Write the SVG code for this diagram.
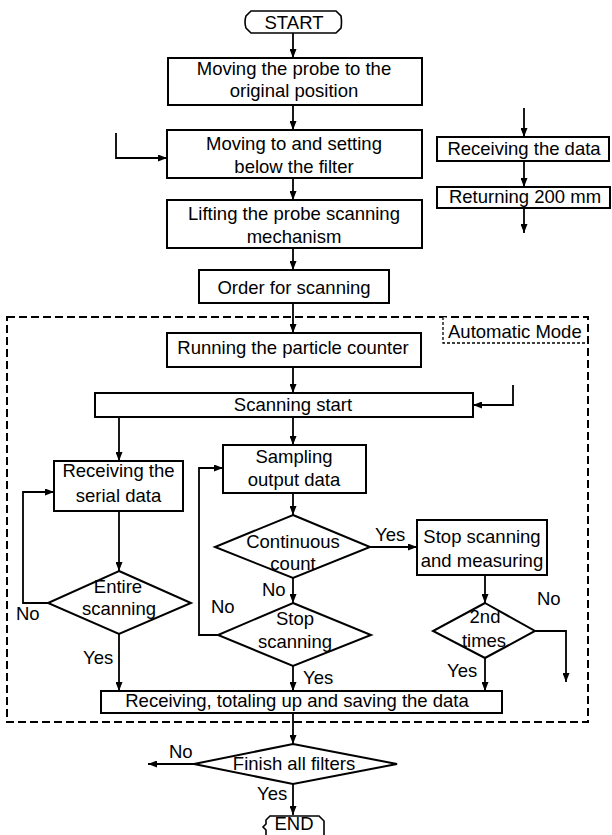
<svg xmlns="http://www.w3.org/2000/svg" width="612" height="835" viewBox="0 0 612 835">
  <defs>
    <marker id="arrow" markerUnits="userSpaceOnUse" markerWidth="10" markerHeight="7" refX="9" refY="3.5" orient="auto">
      <path d="M0,0 L9,3.5 L0,7 Z" fill="#000"/>
    </marker>
    <style>
      .box { fill: #fff; stroke: #000; stroke-width: 2; }
      .term { fill: #fff; stroke: #000; stroke-width: 1.6; }
      .dia { fill: #fff; stroke: #000; stroke-width: 2; }
      .t { font-family: "Liberation Sans", Arial, sans-serif; font-size: 18.5px; fill: #000; text-anchor: middle; }
      .lbl { font-family: "Liberation Sans", Arial, sans-serif; font-size: 18.5px; fill: #000; text-anchor: start; }
      .edge { fill: none; stroke: #000; stroke-width: 1.8; marker-end: url(#arrow); }
      .frame { fill: none; stroke: #000; stroke-width: 2; stroke-dasharray: 8 4; }
      .tag { fill: #fff; stroke: #000; stroke-width: 1.3; stroke-dasharray: 3 2; }
    </style>
  </defs>
  <rect width="612" height="835" fill="#fff"/>

  <!-- automatic mode frame -->
  <g id="automatic-mode">
    <rect class="frame" x="7" y="317" width="581" height="405"/>
    <path class="tag" d="M443,317 V343 H588"/>
    <text class="lbl" x="448" y="338">Automatic Mode</text>
  </g>

  <!-- connectors -->
  <g id="connectors">
    <path class="edge" d="M293,33 V58"/>
    <path class="edge" d="M293,105 V130"/>
    <path class="edge" d="M116,133 V158 H167"/>
    <path class="edge" d="M293,178 V200"/>
    <path class="edge" d="M293,248 V270"/>
    <path class="edge" d="M293,303 V333"/>
    <path class="edge" d="M293,367 V393"/>
    <path class="edge" d="M513,385 V405 H473"/>
    <path class="edge" d="M119,417 V461"/>
    <path class="edge" d="M293,417 V445"/>
    <path class="edge" d="M293,493 V515"/>
    <path class="edge" d="M370,547 H417"/>
    <path class="edge" d="M293,578 V603"/>
    <path class="edge" d="M218,635 H199 V468 H223"/>
    <path class="edge" d="M293,666 V691"/>
    <path class="edge" d="M119,511 V571"/>
    <path class="edge" d="M48,603 H23 V492 H54"/>
    <path class="edge" d="M119,634 V691"/>
    <path class="edge" d="M485,575 V603"/>
    <path class="edge" d="M485,658 V691"/>
    <path class="edge" d="M535,631 H566 V682"/>
    <path class="edge" d="M293,713 V744"/>
    <path class="edge" d="M194,764 H148"/>
    <path class="edge" d="M293,784 V815"/>
    <path class="edge" d="M524,108 V137"/>
    <path class="edge" d="M524,161 V187"/>
    <path class="edge" d="M524,208 V233"/>
    <!-- branch labels -->
    <text class="lbl" x="375" y="541">Yes</text>
    <text class="lbl" x="262" y="596">No</text>
    <text class="lbl" x="211" y="613">No</text>
    <text class="lbl" x="303" y="684">Yes</text>
    <text class="lbl" x="16" y="620">No</text>
    <text class="lbl" x="83" y="664">Yes</text>
    <text class="lbl" x="537" y="605">No</text>
    <text class="lbl" x="447" y="677">Yes</text>
    <text class="lbl" x="169" y="758">No</text>
    <text class="lbl" x="257" y="800">Yes</text>
  </g>

  <g id="start">
    <path class="term" d="M251,11 H336 L341,16 Q342,22 341,28 L336,33 H251 L246,28 Q244,22 246,16 Z"/>
    <text class="t" x="294" y="29">START</text>
  </g>

  <g id="move-origin">
    <rect class="box" x="168" y="58" width="254" height="47"/>
    <text class="t" x="294" y="75">Moving the probe to the</text>
    <text class="t" x="294" y="97">original position</text>
  </g>

  <g id="move-below-filter">
    <rect class="box" x="167" y="130" width="255" height="48"/>
    <text class="t" x="294" y="150">Moving to and setting</text>
    <text class="t" x="294" y="173">below the filter</text>
  </g>

  <g id="lift-probe">
    <rect class="box" x="167" y="200" width="255" height="48"/>
    <text class="t" x="294" y="220">Lifting the probe scanning</text>
    <text class="t" x="294" y="243">mechanism</text>
  </g>

  <g id="order-scan">
    <rect class="box" x="199" y="270" width="190" height="33"/>
    <text class="t" x="294" y="294">Order for scanning</text>
  </g>

  <g id="receive-data">
    <rect class="box" x="437" y="137" width="172" height="24"/>
    <text class="t" x="524" y="155">Receiving the data</text>
  </g>

  <g id="return-200">
    <rect class="box" x="437" y="187" width="173" height="21"/>
    <text class="t" x="525" y="203">Returning 200 mm</text>
  </g>

  <g id="run-counter">
    <rect class="box" x="167" y="333" width="254" height="34"/>
    <text class="t" x="293" y="354">Running the particle counter</text>
  </g>

  <g id="scan-start">
    <rect class="box" x="95" y="393" width="378" height="24"/>
    <text class="t" x="293" y="411">Scanning start</text>
  </g>

  <g id="serial-data">
    <rect class="box" x="54" y="461" width="129" height="50"/>
    <text class="t" x="118.5" y="477">Receiving the</text>
    <text class="t" x="118.5" y="502">serial data</text>
  </g>

  <g id="sampling">
    <rect class="box" x="223" y="445" width="143" height="48"/>
    <text class="t" x="294" y="463">Sampling</text>
    <text class="t" x="294" y="486">output data</text>
  </g>

  <g id="entire-scanning">
    <polygon class="dia" points="119,571 191,603 119,634 48,603"/>
    <text class="t" x="118" y="593">Entire</text>
    <text class="t" x="119" y="615">scanning</text>
  </g>

  <g id="continuous-count">
    <polygon class="dia" points="293,515 370,547 293,578 215,547"/>
    <text class="t" x="293" y="548">Continuous</text>
    <text class="t" x="293" y="570">count</text>
  </g>

  <g id="stop-measure">
    <rect class="box" x="417" y="520" width="130" height="55"/>
    <text class="t" x="482" y="543">Stop scanning</text>
    <text class="t" x="482" y="567">and measuring</text>
  </g>

  <g id="stop-scanning">
    <polygon class="dia" points="293,603 371,635 293,666 218,635"/>
    <text class="t" x="295" y="625">Stop</text>
    <text class="t" x="295" y="648">scanning</text>
  </g>

  <g id="second-times">
    <polygon class="dia" points="485,603 535,631 485,658 433,631"/>
    <text class="t" x="485" y="623">2nd</text>
    <text class="t" x="484" y="647">times</text>
  </g>

  <g id="save-data">
    <rect class="box" x="101" y="691" width="401" height="22"/>
    <text class="t" x="297" y="707">Receiving, totaling up and saving the data</text>
  </g>

  <g id="finish-filters">
    <polygon class="dia" points="293,744 397,764 293,784 194,764"/>
    <text class="t" x="294" y="770">Finish all filters</text>
  </g>

  <g id="end">
    <path class="term" d="M270,816 H319 L324,821 V842 H266 V830 L263,827 L266,824 V820 Z"/>
    <text class="t" x="294" y="830">END</text>
  </g>
</svg>
